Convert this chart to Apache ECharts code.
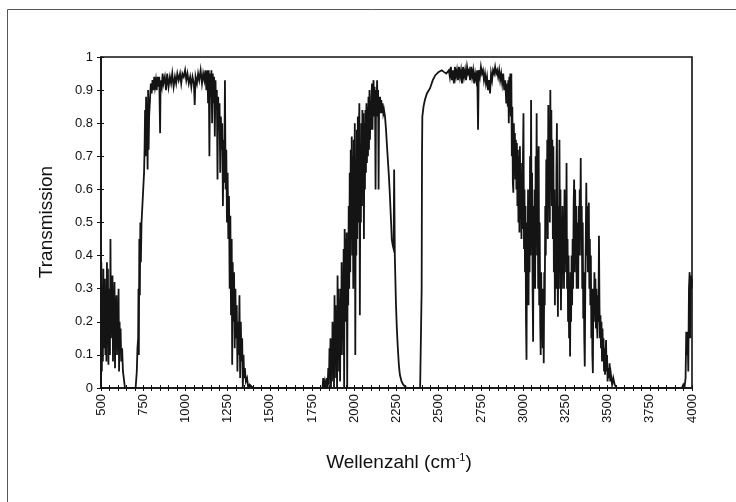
<!DOCTYPE html>
<html>
<head>
<meta charset="utf-8">
<script src="https://cdn.jsdelivr.net/npm/echarts@6/dist/echarts.min.js"></script>
<style>
html,body{margin:0;padding:0;background:#fff;}
#chart{width:736px;height:502px;}
</style>
</head>
<body>
<div id="chart"></div>
<script>
// Tick labels
const xTickLabels = [500,750,1000,1250,1500,1750,2000,2250,2500,2750,3000,3250,3500,3750,4000];
const yTickLabels = ['0','0.1','0.2','0.3','0.4','0.5','0.6','0.7','0.8','0.9','1'];

// Spectrum, as [wavenumber (cm-1), transmission] pairs
const bandA = [[500,0],[502,0.38],[505,0.05],[508,0.3],[511,0.08],[514,0.36],[517,0.12],[520,0.22],[523,0.33],[526,0.1],[529,0.28],[532,0.08],[535,0.38],[538,0.2],[541,0.36],[544,0.07],[547,0.25],[550,0.3],[553,0.1],[556,0.45],[559,0.15],[562,0.3],[565,0.2],[568,0.34],[571,0.08],[574,0.29],[577,0.22],[580,0.32],[583,0.06],[586,0.27],[589,0.18],[592,0.28],[595,0.1],[598,0.25],[601,0.15],[604,0.3],[607,0.05],[610,0.2],[613,0.12],[616,0.18],[620,0.08],[625,0.12],[630,0.05],[635,0.03],[642,0],[690,0],[705,0]];

const bandB = [[712,0.05],[716,0.12],[720,0.15],[722,0.3],[724,0.1],[727,0.45],[730,0.28],[733,0.5],[736,0.38],[740,0.5],[745,0.55],[750,0.6],[755,0.65],[758,0.72],[761,0.84],[764,0.7],[767,0.88],[770,0.78],[773,0.83],[776,0.66],[779,0.9],[782,0.72],[785,0.82],[788,0.85],[791,0.88],[795,0.92],[800,0.89],[805,0.93],[810,0.9],[815,0.94],[820,0.91],[825,0.93],[830,0.9],[835,0.94],[840,0.91],[845,0.94],[850,0.77],[853,0.93],[860,0.91],[865,0.95],[870,0.92],[878,0.94],[885,0.9],[892,0.95],[900,0.91],[908,0.94],[915,0.92],[922,0.95],[930,0.91],[938,0.94],[945,0.92],[952,0.95],[960,0.93],[968,0.95],[975,0.92],[982,0.95],[990,0.94],[998,0.96],[1005,0.93],[1012,0.95],[1020,0.92],[1028,0.94],[1035,0.91],[1042,0.94],[1050,0.92],[1055,0.855],[1060,0.94],[1068,0.92],[1075,0.95],[1082,0.93],[1090,0.96],[1098,0.92],[1105,0.95],[1112,0.93],[1118,0.96],[1124,0.9],[1130,0.96],[1134,0.86],[1138,0.96],[1142,0.7],[1146,0.95],[1150,0.88],[1154,0.96],[1158,0.8],[1162,0.95],[1166,0.86],[1170,0.94],[1174,0.76],[1178,0.93],[1182,0.84],[1186,0.9],[1190,0.63],[1194,0.88],[1198,0.78],[1202,0.86],[1206,0.65],[1210,0.82],[1214,0.72],[1218,0.8],[1222,0.55],[1226,0.75],[1230,0.62],[1234,0.93],[1238,0.6],[1242,0.72],[1246,0.5],[1250,0.65],[1254,0.45],[1258,0.58],[1262,0.3],[1266,0.52],[1270,0.22],[1274,0.45],[1277,0.07],[1280,0.38],[1284,0.2],[1288,0.35],[1292,0.12],[1296,0.3],[1300,0.15],[1304,0.25],[1308,0.05],[1312,0.2],[1316,0.1],[1320,0.28],[1324,0.03],[1328,0.2],[1332,0.08],[1336,0.15],[1340,0],[1344,0.1],[1348,0.03],[1352,0.06],[1358,0.02],[1365,0.03],[1372,0],[1380,0.01],[1400,0]];

const bandC = [[1800,0],[1812,0],[1816,0.03],[1820,0],[1826,0.02],[1832,0],[1838,0.03],[1842,0],[1846,0.06],[1850,0.01],[1853,0.12],[1856,0.03],[1859,0.15],[1862,0],[1865,0.1],[1868,0.02],[1871,0.2],[1874,0.05],[1877,0.18],[1880,0],[1883,0.28],[1886,0.08],[1889,0.25],[1892,0.03],[1895,0.22],[1898,0],[1901,0.34],[1904,0.12],[1907,0.3],[1910,0.05],[1913,0.27],[1916,0.02],[1919,0.3],[1922,0.1],[1925,0.38],[1928,0.15],[1931,0.32],[1934,0.1],[1937,0.42],[1940,0],[1943,0.48],[1946,0.25],[1949,0.45],[1952,0.2],[1955,0.47],[1958,0],[1961,0.4],[1964,0.25],[1967,0.55],[1970,0.3],[1973,0.65],[1976,0.35],[1979,0.72],[1982,0.45],[1985,0.76],[1988,0.4],[1991,0.7],[1994,0.3],[1997,0.75],[2000,0.5],[2003,0.8],[2006,0.1],[2009,0.65],[2012,0.4],[2015,0.78],[2018,0.45],[2021,0.82],[2024,0.5],[2027,0.75],[2030,0.86],[2033,0.22],[2036,0.7],[2039,0.5],[2042,0.8],[2045,0.55],[2048,0.84],[2051,0.6],[2054,0.83],[2057,0.45],[2060,0.8],[2063,0.6],[2066,0.84],[2069,0.65],[2072,0.86],[2075,0.68],[2078,0.85],[2081,0.7],[2084,0.88],[2087,0.72],[2090,0.9],[2093,0.75],[2096,0.86],[2099,0.78],[2102,0.88],[2105,0.92],[2108,0.78],[2111,0.9],[2114,0.93],[2117,0.82],[2120,0.91],[2123,0.85],[2126,0.6],[2129,0.9],[2132,0.82],[2135,0.93],[2138,0.84],[2141,0.9],[2144,0.6],[2147,0.88],[2150,0.84],[2153,0.88],[2156,0.83],[2160,0.87],[2164,0.83],[2168,0.86],[2172,0.83],[2176,0.84],[2182,0.82],[2188,0.78],[2195,0.72],[2205,0.64],[2211,0.58],[2218,0.5],[2222,0.45],[2228,0.43],[2233,0.42],[2236,0.66],[2240,0.4],[2247,0.25],[2252,0.18],[2258,0.12],[2264,0.07],[2270,0.04],[2280,0.02],[2290,0.01],[2310,0],[2390,0],[2397,0]];

const bandD = [[2399,0.3],[2401,0.7],[2403,0.82],[2410,0.85],[2418,0.87],[2430,0.89],[2448,0.905],[2465,0.93],[2480,0.945],[2500,0.955],[2518,0.96],[2530,0.955],[2545,0.95],[2550,0.95],[2560,0.96],[2566,0.94],[2572,0.97],[2578,0.93],[2584,0.96],[2590,0.92],[2596,0.97],[2602,0.94],[2608,0.96],[2614,0.93],[2620,0.97],[2626,0.94],[2632,0.96],[2638,0.92],[2644,0.97],[2650,0.94],[2656,0.96],[2662,0.93],[2668,0.97],[2674,0.95],[2680,0.96],[2686,0.93],[2692,0.97],[2698,0.94],[2704,0.96],[2710,0.92],[2716,0.95],[2722,0.93],[2728,0.96],[2733,0.78],[2737,0.96],[2744,0.94],[2750,0.97],[2756,0.95],[2762,0.96],[2768,0.93],[2774,0.95],[2780,0.92],[2786,0.94],[2792,0.9],[2798,0.93],[2804,0.89],[2810,0.95],[2816,0.93],[2822,0.96],[2828,0.95],[2834,0.97],[2840,0.95],[2846,0.96],[2852,0.94],[2858,0.96],[2864,0.93],[2870,0.95],[2876,0.92],[2882,0.95],[2888,0.9],[2894,0.93],[2900,0.86]];

const bandE = [[2906,0.92],[2909,0.85],[2912,0.93],[2915,0.8],[2918,0.94],[2921,0.86],[2924,0.95],[2927,0.82],[2930,0.95],[2933,0.7],[2936,0.85],[2939,0.62],[2942,0.59],[2945,0.8],[2948,0.66],[2951,0.77],[2954,0.63],[2957,0.75],[2960,0.6],[2963,0.74],[2966,0.55],[2969,0.72],[2972,0.5],[2975,0.7],[2978,0.47],[2981,0.73],[2984,0.52],[2987,0.68],[2990,0.45],[2993,0.62],[2996,0.48],[2999,0.7],[3002,0.83],[3005,0.42],[3008,0.6],[3011,0.35],[3014,0.55],[3017,0.2],[3020,0.085],[3023,0.5],[3026,0.3],[3029,0.6],[3032,0.25],[3035,0.55],[3038,0.35],[3041,0.7],[3044,0.4],[3047,0.87],[3050,0.45],[3053,0.65],[3056,0.3],[3059,0.14],[3062,0.55],[3065,0.35],[3068,0.6],[3071,0.3],[3074,0.7],[3077,0.5],[3080,0.83],[3083,0.4],[3086,0.72],[3089,0.3],[3092,0.73],[3095,0.25],[3098,0.5],[3101,0.2],[3104,0.1],[3107,0.35],[3110,0.15],[3113,0.3],[3116,0.12],[3119,0.3],[3122,0.075],[3125,0.35],[3128,0.25],[3131,0.55],[3134,0.4],[3137,0.69],[3140,0.5],[3143,0.75],[3146,0.45],[3149,0.855],[3152,0.55],[3155,0.75],[3158,0.5],[3161,0.9],[3164,0.6],[3167,0.84],[3170,0.55],[3173,0.75],[3176,0.45],[3179,0.73],[3182,0.35],[3185,0.6],[3188,0.25],[3191,0.5],[3194,0.3],[3197,0.65],[3200,0.8],[3203,0.4],[3206,0.215],[3209,0.55],[3212,0.3],[3215,0.75],[3218,0.4],[3221,0.6],[3224,0.235],[3227,0.45],[3230,0.3],[3233,0.55],[3236,0.35],[3239,0.5],[3242,0.3],[3245,0.6],[3248,0.4],[3251,0.55],[3254,0.35],[3257,0.68],[3260,0.3],[3263,0.45],[3266,0.2],[3269,0.4],[3272,0.15],[3275,0.3],[3278,0.095],[3281,0.35],[3284,0.2],[3287,0.4],[3290,0.25],[3293,0.45],[3296,0.3],[3299,0.55],[3302,0.63],[3305,0.35],[3308,0.6],[3311,0.4],[3314,0.55],[3317,0.3],[3320,0.5],[3323,0.35],[3326,0.3],[3329,0.55],[3332,0.4],[3335,0.6],[3338,0.45],[3341,0.695],[3344,0.4],[3347,0.55],[3350,0.3],[3353,0.5],[3356,0.21],[3359,0.35],[3362,0.15],[3365,0.065],[3368,0.3],[3371,0.45],[3374,0.62],[3377,0.4],[3380,0.55],[3383,0.35],[3386,0.5],[3389,0.56],[3392,0.3],[3395,0.45],[3398,0.25],[3401,0.4],[3404,0.15],[3407,0.3],[3410,0.1],[3413,0.045],[3416,0.3],[3419,0.2],[3422,0.35],[3425,0.25],[3428,0.33],[3431,0.18],[3434,0.3],[3437,0.2],[3440,0.15],[3443,0.28],[3446,0.2],[3449,0.46],[3452,0.25],[3455,0.15],[3458,0.22],[3461,0.12],[3464,0.2],[3467,0.08],[3470,0.18],[3473,0.1],[3476,0.15],[3479,0.05],[3482,0.12],[3485,0.04],[3488,0.1],[3491,0.145],[3494,0.05],[3497,0.1],[3500,0.02],[3504,0.06],[3508,0.03],[3512,0.075],[3516,0.02],[3520,0.04],[3527,0.01],[3534,0.03],[3542,0.01],[3555,0]];

const bandF = [[3940,0],[3948,0.01],[3955,0],[3962,0.03],[3966,0.17],[3970,0.1],[3974,0.17],[3978,0.05],[3982,0.3],[3986,0.35],[3990,0.15],[3994,0.34],[3998,0.3],[4000,0.33]];

const seriesData = [].concat(bandA, bandB, bandC, bandD, bandE, bandF);

const FONT = 'Liberation Sans, Arial, sans-serif';
const chart = echarts.init(document.getElementById('chart'), null, {renderer: 'canvas'});

const xAxisBase = {type: 'value', min: 500, max: 4000, interval: 250, position: 'bottom'};
const yAxisBase = {type: 'value', min: 0, max: 1, interval: 0.1, position: 'left'};

chart.setOption({
  animation: false,
  backgroundColor: '#fff',
  grid: {left: 101, right: 44, top: 57, bottom: 114, show: true, borderColor: '#111', borderWidth: 1.6, backgroundColor: 'transparent'},
  xAxis: [
    Object.assign({}, xAxisBase, {
      axisLine: {show: true, lineStyle: {color: '#111', width: 1.6}},
      axisTick: {show: true, inside: false, length: 3, lineStyle: {color: '#111', width: 1}},
      minorTick: {show: true, splitNumber: 5, length: 3, lineStyle: {color: '#111', width: 1}},
      splitLine: {show: false},
      axisLabel: {
        rotate: 90, margin: 6, color: '#111', fontFamily: FONT, fontSize: 13,
        formatter: v => (xTickLabels.indexOf(v) >= 0 ? String(v) : '')
      }
    }),
    Object.assign({}, xAxisBase, {
      axisLine: {show: false},
      axisTick: {show: true, inside: true, length: 3, lineStyle: {color: '#111', width: 1}},
      minorTick: {show: true, splitNumber: 5, length: 3, lineStyle: {color: '#111', width: 1}},
      splitLine: {show: false},
      axisLabel: {show: false}
    })
  ],
  yAxis: [
    Object.assign({}, yAxisBase, {
      axisLine: {show: true, lineStyle: {color: '#111', width: 1.6}},
      axisTick: {show: true, inside: false, length: 4, lineStyle: {color: '#111', width: 1}},
      splitLine: {show: false},
      axisLabel: {
        margin: 8, color: '#111', fontFamily: FONT, fontSize: 13,
        formatter: v => yTickLabels[Math.round(v * 10)]
      }
    }),
    Object.assign({}, yAxisBase, {
      axisLine: {show: false},
      axisTick: {show: true, inside: true, length: 3, lineStyle: {color: '#111', width: 1}},
      splitLine: {show: false},
      axisLabel: {show: false}
    })
  ],
  series: [{
    type: 'line',
    xAxisIndex: 0, yAxisIndex: 0,
    data: seriesData,
    showSymbol: false,
    symbol: 'none',
    smooth: false,
    lineStyle: {color: '#141414', width: 1.8, join: 'miter'},
    emphasis: {disabled: true}
  }],
  graphic: [
    {type: 'rect', silent: true, shape: {x: 7.5, y: 9.5, width: 800, height: 600},
     style: {fill: 'none', stroke: '#555', lineWidth: 1}},
    {type: 'text', silent: true, x: 47, y: 222, rotation: Math.PI / 2,
     style: {text: 'Transmission', fill: '#111', font: '19px ' + FONT, align: 'center', verticalAlign: 'middle'}},
    {type: 'text', silent: true, x: 399, y: 463,
     style: {
       text: '{a|Wellenzahl (cm}{s|-1}{a|)}', align: 'center', verticalAlign: 'middle',
       rich: {
         a: {fill: '#111', fontSize: 19, fontFamily: FONT, lineHeight: 22},
         s: {fill: '#111', fontSize: 11, fontFamily: FONT, lineHeight: 22, verticalAlign: 'top', padding: [0, 0, 10, 0]}
       }
     }}
  ]
});
</script>
</body>
</html>
